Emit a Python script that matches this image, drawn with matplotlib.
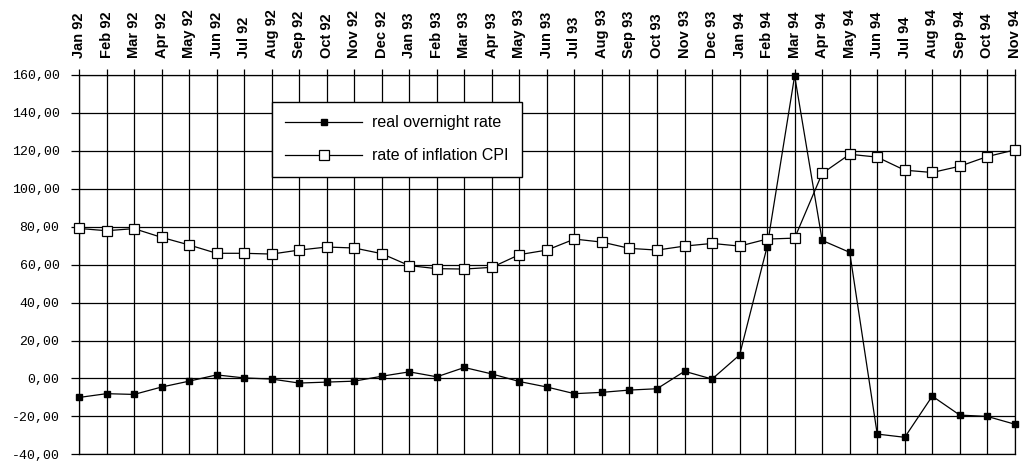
import matplotlib
matplotlib.use("Agg")
import matplotlib.pyplot as plt
from matplotlib.ticker import FuncFormatter

months = [
    "Jan 92", "Feb 92", "Mar 92", "Apr 92", "May 92", "Jun 92", "Jul 92", "Aug 92",
    "Sep 92", "Oct 92", "Nov 92", "Dec 92", "Jan 93", "Feb 93", "Mar 93", "Apr 93",
    "May 93", "Jun 93", "Jul 93", "Aug 93", "Sep 93", "Oct 93", "Nov 93", "Dec 93",
    "Jan 94", "Feb 94", "Mar 94", "Apr 94", "May 94", "Jun 94", "Jul 94", "Aug 94",
    "Sep 94", "Oct 94", "Nov 94",
]
real_overnight_rate = [
    -10.0, -8.0, -8.4, -4.5, -1.4, 1.9, 0.3, -0.3, -2.4, -1.9, -1.4, 1.2,
    3.5, 0.9, 5.8, 2.4, -1.6, -4.5, -8.0, -7.3, -6.1, -5.4, 3.8, -0.3,
    12.4, 69.5, 159.6, 72.8, 66.5, -29.3, -31.0, -9.3, -19.3, -20.0, -24.1,
]
inflation_cpi = [
    79.1, 77.9, 79.0, 74.4, 70.4, 66.0, 66.0, 65.6, 67.7, 69.3, 68.8, 65.8,
    59.5, 57.9, 57.7, 58.6, 65.3, 67.7, 73.5, 71.9, 68.6, 67.7, 69.8, 71.2,
    69.8, 73.5, 74.0, 108.1, 118.2, 116.7, 109.8, 108.6, 111.9, 117.0, 120.5,
]
y_ticks = list(range(-40, 161, 20))

fig = plt.figure(figsize=(10.22, 4.62), dpi=100)
ax = fig.add_axes([0.0773, 0.0165, 0.9157, 0.8212])

x = list(range(len(months)))
ax.plot(x, real_overnight_rate, color="black", linewidth=0.9, marker="s",
        markersize=4.5, markerfacecolor="black", markeredgecolor="black",
        label="real overnight rate", zorder=3, clip_on=False)
ax.plot(x, inflation_cpi, color="black", linewidth=0.9, marker="s",
        markersize=7, markerfacecolor="white", markeredgecolor="black",
        markeredgewidth=0.9, label="rate of inflation CPI", zorder=3, clip_on=False)

ax.set_xlim(0, len(months) - 1)
ax.set_ylim(-40, 160)
ax.set_xticks(x)
ax.set_xticklabels(months, rotation=90, fontsize=10.5, fontweight="bold",
                   family=["Liberation Sans Narrow", "Liberation Sans"])
ax.xaxis.tick_top()
ax.tick_params(axis="x", direction="out", length=4, width=0.9, pad=8)
ax.set_yticks(y_ticks)
ax.yaxis.set_major_formatter(FuncFormatter(lambda v, _: f"{v:.2f}".replace(".", ",")))
for lab in ax.get_yticklabels():
    lab.set_family(["Liberation Mono", "DejaVu Sans Mono"])
    lab.set_fontsize(9.5)
ax.tick_params(axis="y", direction="out", length=6, width=0.9, pad=8)

ax.grid(True, color="black", linewidth=0.9)
for spine in ax.spines.values():
    spine.set_linewidth(0.9)

leg = ax.legend(loc="upper left", bbox_to_anchor=(0.206, 0.93), frameon=True,
                fancybox=False, edgecolor="black", framealpha=1, handlelength=4.8,
                borderpad=0.85, labelspacing=1.15, handletextpad=0.6,
                borderaxespad=0,
                prop={"family": "Liberation Sans", "size": 11.5})
leg.get_frame().set_linewidth(1.0)
leg.set_zorder(5)

fig.savefig("out.png", dpi=100)
